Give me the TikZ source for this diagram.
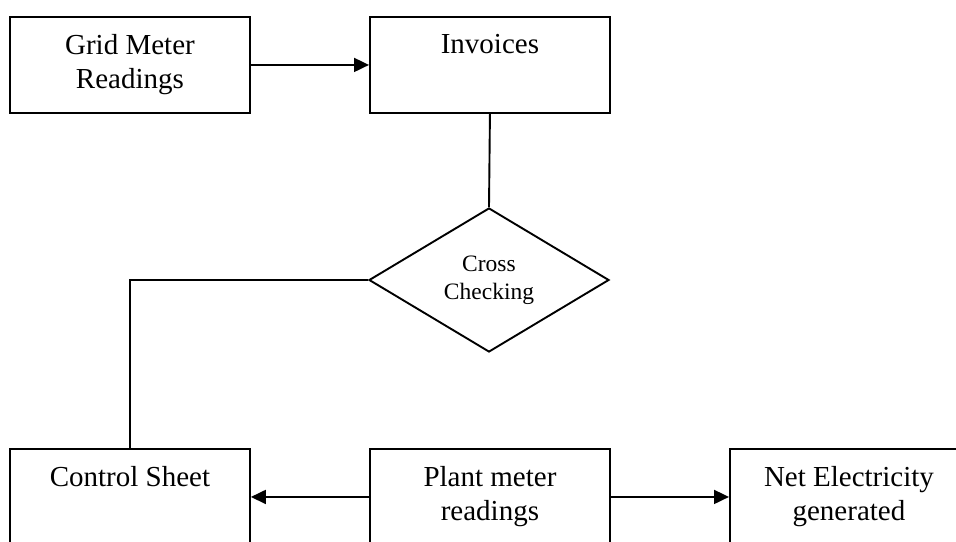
\documentclass[tikz,border=0pt]{standalone}
\usepackage{fontspec}
\setmainfont{Liberation Serif}
\usetikzlibrary{shapes.geometric,arrows.meta}
\begin{document}
\begin{tikzpicture}[x=1pt,y=-1pt,
  line width=1.9pt,
  box/.style={draw,rectangle,minimum width=240pt,minimum height=96pt,inner sep=0pt,anchor=north west},
  boxtext/.style={font=\fontsize{29}{34}\selectfont,align=center,inner sep=0pt,anchor=north},
  arr/.style={-{Triangle[length=15pt,width=14pt]}},
  dia/.style={draw,shape=diamond,minimum width=240pt,minimum height=144pt,aspect=1.67,inner sep=0pt,font=\fontsize{23.5}{28}\selectfont,align=center}]
\useasboundingbox (0,0) rectangle (956,541);
\begin{scope}
\clip (0,0) rectangle (956,541);
\node[box] (grid) at (9,16) {};
\node[box] (inv) at (369,16) {};
\node[dia] (cc) at (489,280) {Cross\\Checking};
\node[box] (cs) at (9,448) {};
\node[box] (pm) at (369,448) {};
\node[box,minimum width=238pt] (net) at (729,448) {};
\node[boxtext] (tgrid) at ([yshift=-17pt]grid.north) {Grid Meter\\Readings};
\node[boxtext] (tinv) at ([yshift=-17pt]inv.north) {Invoices};
\node[boxtext] (tcs) at ([yshift=-17pt]cs.north) {Control Sheet};
\node[boxtext] (tpm) at ([yshift=-17pt]pm.north) {Plant meter\\readings};
\node[boxtext] (tnet) at ([yshift=-17pt]net.north) {Net Electricity\\generated};
\draw[arr] (grid.east) -- (inv.west);
\draw (inv.south) -- (cc.north);
\draw (cc.west) -| (cs.north);
\draw[arr] (pm.west) -- (cs.east);
\draw[arr] (pm.east) -- (net.west);
\end{scope}
\end{tikzpicture}
\end{document}
